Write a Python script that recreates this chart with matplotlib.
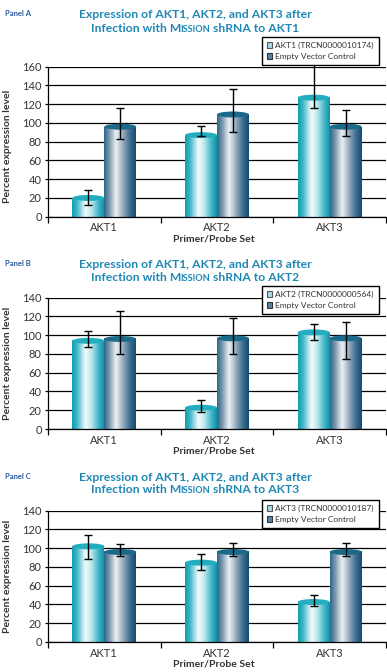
import numpy as np
import matplotlib.pyplot as plt
from matplotlib.colors import LinearSegmentedColormap
from matplotlib.patches import Ellipse, Patch

plt.rcParams['font.family'] = ['Lato', 'DejaVu Sans']

groups = ['AKT1', 'AKT2', 'AKT3']

# Panel A - shRNA to AKT1
a_kd = [20, 87, 127]
a_kd_lo = [12, 86, 115.5]
a_kd_hi = [29, 97, 166]
a_ctl = [96, 109, 96]
a_ctl_lo = [82.5, 90, 86]
a_ctl_hi = [115.5, 136, 114]

# Panel B - shRNA to AKT2
b_kd = [94, 22.7, 103]
b_kd_lo = [87, 17.8, 94.5]
b_kd_hi = [104, 30.6, 112]
b_ctl = [96, 96.7, 96.7]
b_ctl_lo = [79.6, 79.6, 75]
b_ctl_hi = [125.5, 118, 113.7]

# Panel C - shRNA to AKT3
c_kd = [102, 84.6, 42.6]
c_kd_lo = [88, 76.4, 38.4]
c_kd_hi = [114.4, 93.5, 49.8]
c_ctl = [96, 96, 96]
c_ctl_lo = [91.3, 91.3, 91.3]
c_ctl_hi = [104.8, 106, 106]

W, H = 387, 672
title_col = '#2088b5'
txt_col = '#333333'

cm_light = LinearSegmentedColormap.from_list('light', [
    (0, '#129cb0'), (0.15, '#3ab6c6'), (0.42, '#f4fbfc'),
    (0.6, '#bfe8ee'), (0.85, '#38b2c4'), (1, '#0c94a8')])
cm_dark = LinearSegmentedColormap.from_list('dark', [
    (0, '#2a6888'), (0.15, '#7592aa'), (0.38, '#eef2f5'),
    (0.58, '#9cb0c2'), (0.82, '#3c6c8e'), (1, '#134c6c')])
grad = np.linspace(0, 1, 256).reshape(1, -1)

fig = plt.figure(figsize=(W / 100, H / 100), dpi=100)


def px_text(x, y, s, **kw):
    return fig.text(x / W, 1 - y / H, s, **kw)


def title_line(y, pieces, xc=195):
    # pieces: (text, fontsize, extra px shift after the piece)
    texts = [px_text(0, y, s, fontsize=fs, weight='bold', color=title_col,
                     va='baseline', ha='left') for s, fs, _ in pieces]
    fig.canvas.draw()
    widths = [t.get_window_extent().width + p[2] for t, p in zip(texts, pieces)]
    x = xc - sum(widths) / 2
    for t, w in zip(texts, widths):
        t.set_x(x / W)
        x += w


def panel(top, bottom, ymax, kd, kd_lo, kd_hi, ctl, ctl_lo, ctl_hi,
          kd_label, target, letter, title_off, leg_top):
    ax = fig.add_axes([48 / W, 1 - bottom / H, (386 - 48) / W, (bottom - top) / H])
    x = np.arange(len(groups))
    bw = 0.283
    ell_h = 6.4
    for vals, lo, hi, off, cmap, topcol in [
            (kd, kd_lo, kd_hi, -bw / 2, cm_light, '#22adc0'),
            (ctl, ctl_lo, ctl_hi, bw / 2, cm_dark, '#1b6a8a')]:
        bars = ax.bar(x + off, vals, width=bw, facecolor='none',
                      edgecolor='none', zorder=2)
        for b in bars:
            x0, w, h = b.get_x(), b.get_width(), b.get_height()
            ax.imshow(grad, cmap=cmap, extent=(x0, x0 + w, 0, h),
                      aspect='auto', zorder=2, interpolation='bicubic')
            ax.add_patch(Ellipse((x0 + w / 2, h), w, ell_h,
                                 facecolor=topcol, edgecolor='none', zorder=3))
        vals = np.array(vals)
        ax.errorbar(x + off, vals,
                    yerr=[vals - np.array(lo), np.array(hi) - vals],
                    fmt='none', ecolor='black', elinewidth=1, capsize=2.6,
                    capthick=1, zorder=4, clip_on=False)

    ax.set_xlim(-0.5, 2.5)
    ax.set_ylim(0, ymax)
    ax.set_yticks(np.arange(0, ymax + 1, 20))
    ax.set_axisbelow(True)
    ax.yaxis.grid(True, color='black', linewidth=0.9)
    for s in ['top', 'right']:
        ax.spines[s].set_visible(False)
    ax.spines['left'].set_linewidth(0.9)
    ax.spines['bottom'].set_linewidth(0.9)
    ax.set_xticks(x)
    ax.set_xticklabels(groups)
    ax.set_xticks([-0.5, 0.5, 1.5, 2.5], minor=True)
    ax.tick_params(axis='x', which='major', length=0, pad=4,
                   labelsize=8, labelcolor=txt_col)
    ax.tick_params(axis='x', which='minor', length=4, width=0.9, direction='out')
    ax.tick_params(axis='y', length=2.5, width=0.9, pad=2,
                   labelsize=8, labelcolor=txt_col)

    handles = [Patch(facecolor='#a6dbe4', edgecolor='#555555', linewidth=0.8),
               Patch(facecolor='#5f829c', edgecolor='#333333', linewidth=0.8)]
    leg = ax.legend(handles, [kd_label, 'Empty Vector Control'],
                    loc='upper left',
                    bbox_to_anchor=(262 / W, 1 - leg_top / H, 117 / W, 0.001),
                    bbox_transform=fig.transFigure, mode='expand',
                    borderaxespad=0, fontsize=6, fancybox=False,
                    framealpha=1, edgecolor='black', handlelength=0.7,
                    handleheight=0.7, handletextpad=0.35, labelspacing=0.5,
                    borderpad=0.55, labelcolor=txt_col)
    leg.get_frame().set_linewidth(1)
    leg.set_zorder(10)

    px_text(8, (top + bottom) / 2 + (5 if ymax == 160 else 0),
            'Percent expression level', rotation=90, ha='center',
            va='center', fontsize=7.5, weight='bold', color=txt_col)
    px_text(214, bottom + 22, 'Primer/Probe Set', ha='center',
            va='center', fontsize=7.5, weight='bold', color=txt_col)
    px_text(5, top - title_off[0] - 2, 'Panel ' + letter, fontsize=5.5,
            weight='bold', color='#2a5aa0', va='baseline')
    title_line(top - title_off[0],
               [('Expression of AKT1, AKT2, and AKT3 after', 8.7, 0)])
    title_line(top - title_off[1],
               [('Infection with M', 8.7, -1.5), ('ISSION', 6.6, 0),
                (' shRNA to ' + target, 8.7, 0)])
    return ax


panel(66.7, 216.7, 160, a_kd, a_kd_lo, a_kd_hi, a_ctl, a_ctl_lo, a_ctl_hi,
      'AKT1 (TRCN0000010174)', 'AKT1', 'A', (48.4, 35), 38)
panel(297.7, 429, 140, b_kd, b_kd_lo, b_kd_hi, b_ctl, b_ctl_lo, b_ctl_hi,
      'AKT2 (TRCN0000000564)', 'AKT2', 'B', (29.4, 16.7), 287)
panel(510.7, 642, 140, c_kd, c_kd_lo, c_kd_hi, c_ctl, c_ctl_lo, c_ctl_hi,
      'AKT3 (TRCN0000010187)', 'AKT3', 'C', (30, 17.4), 500.7)

fig.savefig('out.png', dpi=100)
